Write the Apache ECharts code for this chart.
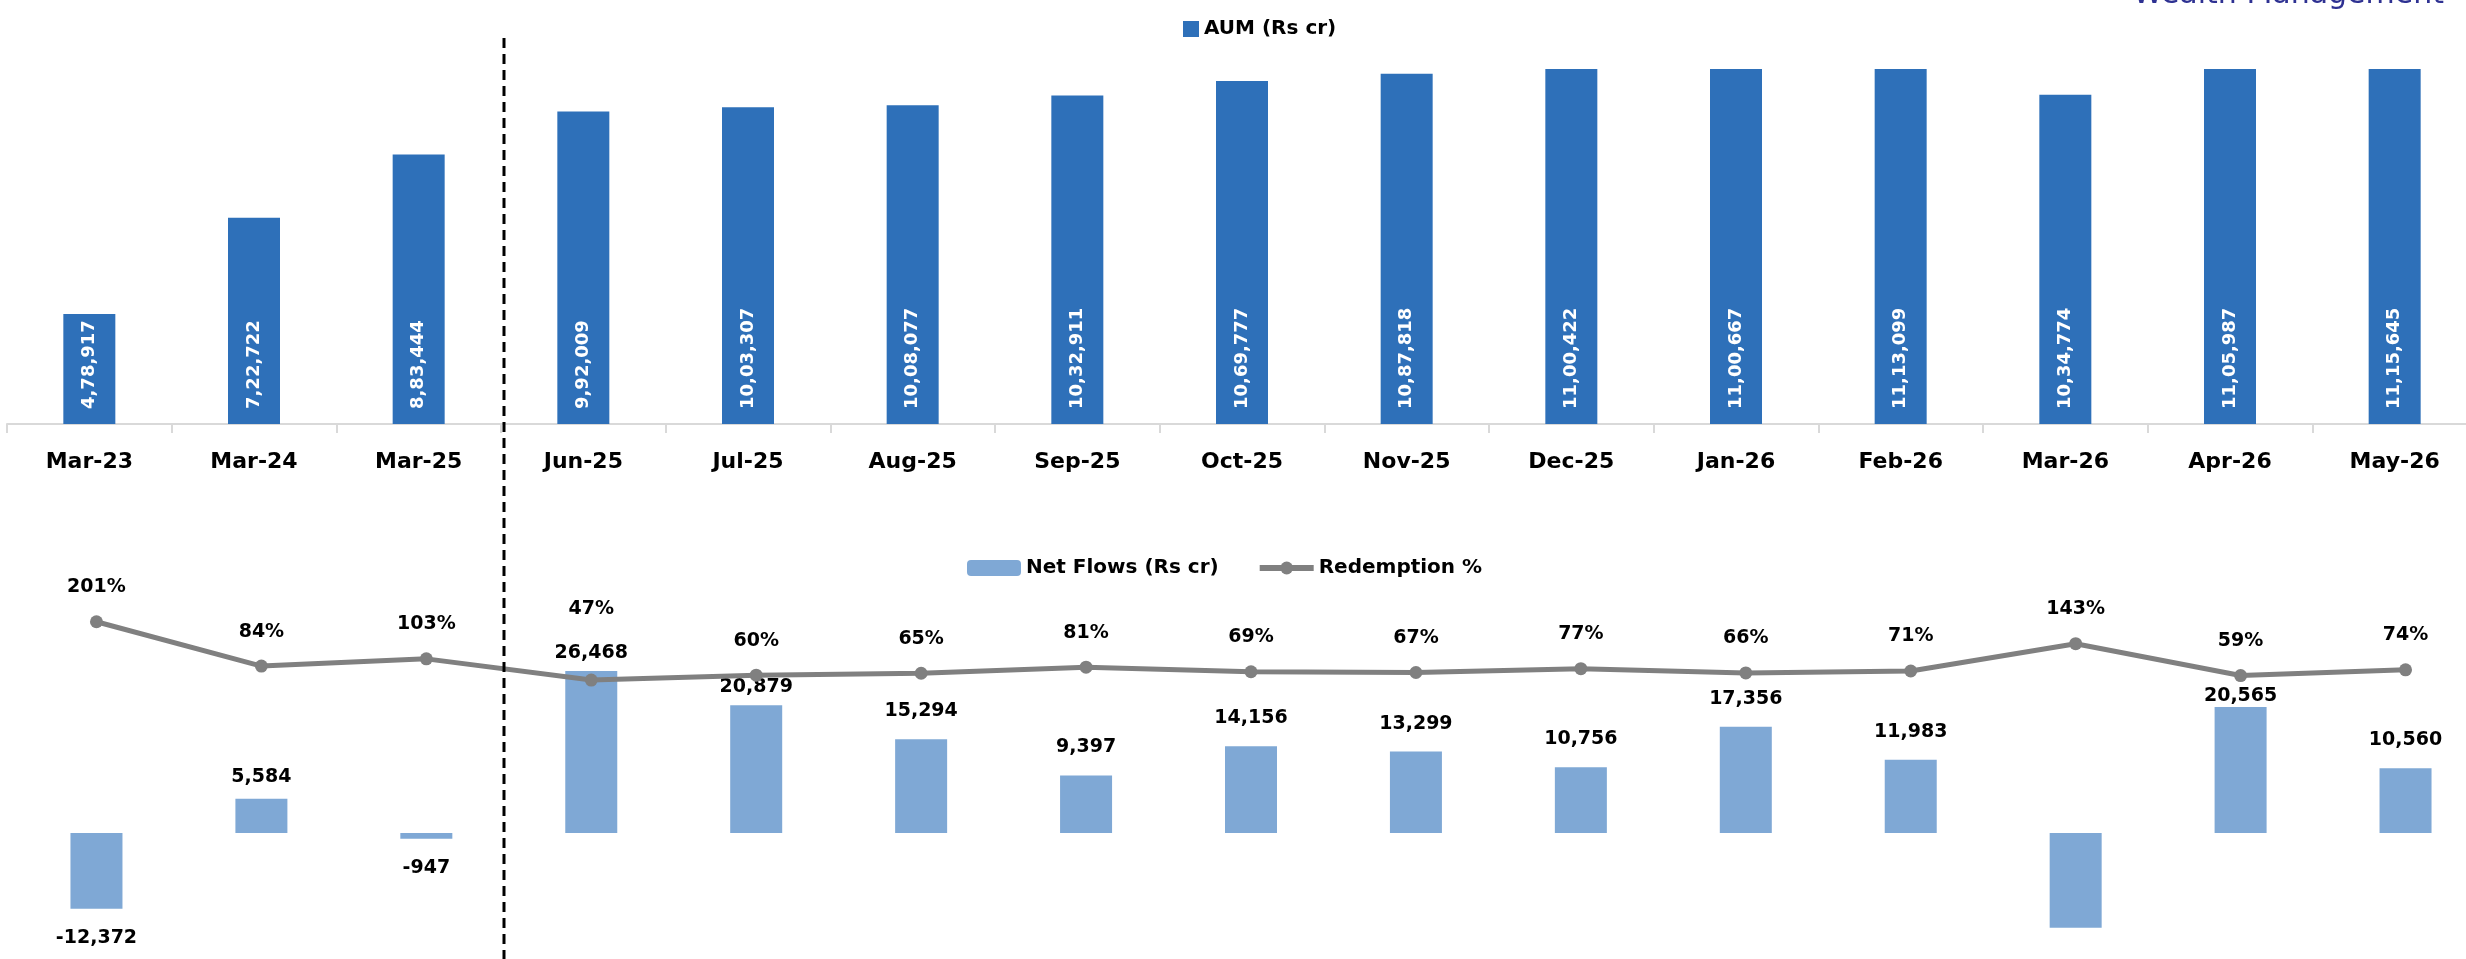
<!DOCTYPE html>
<html>
<head>
<meta charset="utf-8">
<script src="https://cdn.jsdelivr.net/npm/echarts@6/dist/echarts.min.js"></script>
<style>
  html, body { margin: 0; padding: 0; background: #ffffff; }
  #chart { width: 2466px; height: 959px; }
</style>
</head>
<body>
<div id="chart"></div>
<script>
// ---------- data ----------
const categories = ['Mar-23','Mar-24','Mar-25','Jun-25','Jul-25','Aug-25','Sep-25','Oct-25','Nov-25','Dec-25','Jan-26','Feb-26','Mar-26','Apr-26','May-26'];
const aum = [478917, 722722, 883444, 992009, 1003307, 1008077, 1032911, 1069777, 1087818, 1100422, 1100667, 1113099, 1034774, 1105987, 1115645];
const netFlows = [-12372, 5584, -947, 26468, 20879, 15294, 9397, 14156, 13299, 10756, 17356, 11983, -15450, 20565, 10560];
const redemption = [201, 84, 103, 47, 60, 65, 81, 69, 67, 77, 66, 71, 143, 59, 74];
const aumName = 'AUM (Rs cr)';
const flowName = 'Net Flows (Rs cr)';
const redName = 'Redemption %';
const hiddenFlowLabels = ['Mar-26'];

// ---------- label placement tweaks (style only) ----------
const flowLabelNudge = { 'Mar-24': 6, 'Jun-25': 10, 'Jul-25': 10, 'Apr-26': 17 };
const redLabelLift = { 'Jun-25': 37 };

const FONT = "'DejaVu Sans', sans-serif";

function inr(n) {
  const neg = n < 0;
  const s = Math.abs(Math.round(n)).toString();
  let last3 = s.slice(-3);
  let rest = s.slice(0, -3);
  if (rest) last3 = ',' + last3;
  rest = rest.replace(/\B(?=(\d{2})+(?!\d))/g, ',');
  return (neg ? '-' : '') + rest + last3;
}

const flowData = netFlows.map((v, i) => {
  const c = categories[i];
  const nudge = flowLabelNudge[c] || 0;
  return {
    value: v,
    label: {
      show: hiddenFlowLabels.indexOf(c) < 0,
      position: v >= 0 ? 'top' : 'bottom',
      distance: (v >= 0 ? 16 : 17) - nudge
    }
  };
});

const redData = redemption.map((v, i) => {
  const c = categories[i];
  return { value: v, label: { distance: 16 + (redLabelLift[c] || 0) } };
});

const chart = echarts.init(document.getElementById('chart'), null, { renderer: 'canvas' });

const boldLabel = { color: '#000000', fontWeight: 'bold', fontFamily: FONT };

chart.setOption({
  animation: false,
  backgroundColor: '#ffffff',
  legend: [
    {
      data: [aumName],
      left: 1178, top: 14,
      itemWidth: 16, itemHeight: 16,
      icon: 'rect',
      textStyle: Object.assign({ fontSize: 20 }, boldLabel)
    },
    {
      data: [
        { name: flowName },
        { name: redName, lineStyle: { width: 6, color: '#808080' }, itemStyle: { color: '#808080' } }
      ],
      left: 962, top: 553,
      itemWidth: 54, itemHeight: 16,
      itemGap: 38,
      textStyle: Object.assign({ fontSize: 20 }, boldLabel)
    }
  ],
  grid: [
    { left: 7, top: 69, width: 2470, height: 355, outerBoundsMode: 'none', containLabel: false },
    { left: 14, top: 588, width: 2474, height: 367.6, outerBoundsMode: 'none', containLabel: false }
  ],
  xAxis: [
    {
      type: 'category', gridIndex: 0, data: categories, boundaryGap: true,
      axisLine: { show: true, lineStyle: { color: '#D9D9D9', width: 2 } },
      axisTick: { show: true, length: 9, interval: 0, lineStyle: { color: '#D9D9D9', width: 2 } },
      axisLabel: Object.assign({ interval: 0, fontSize: 22, margin: 25, lineHeight: 26 }, boldLabel),
      splitLine: { show: false }
    },
    {
      type: 'category', gridIndex: 1, data: categories, boundaryGap: true, show: false
    }
  ],
  yAxis: [
    { type: 'value', gridIndex: 0, min: 200000, max: 1100000, show: false, splitLine: { show: false } },
    { type: 'value', gridIndex: 1, min: -20000, max: 40000, show: false, splitLine: { show: false } },
    { type: 'value', gridIndex: 1, min: -680, max: 290, show: false, splitLine: { show: false } }
  ],
  series: [
    {
      name: aumName, type: 'bar', xAxisIndex: 0, yAxisIndex: 0,
      data: aum, barWidth: 52, clip: true,
      itemStyle: { color: '#2E70B9' },
      label: {
        show: true, position: 'insideBottom', distance: 15, rotate: 90,
        align: 'left', verticalAlign: 'middle',
        color: '#ffffff', fontWeight: 'bold', fontSize: 18, fontFamily: FONT,
        formatter: p => inr(p.value)
      }
    },
    {
      name: flowName, type: 'bar', xAxisIndex: 1, yAxisIndex: 1,
      data: flowData, barWidth: 52,
      itemStyle: { color: '#7FA8D5' },
      label: Object.assign({ show: true, fontSize: 19, lineHeight: 24, formatter: p => inr(p.value) }, boldLabel)
    },
    {
      name: redName, type: 'line', xAxisIndex: 1, yAxisIndex: 2,
      data: redData, z: 5,
      symbol: 'circle', symbolSize: 13,
      lineStyle: { color: '#808080', width: 5 },
      itemStyle: { color: '#808080' },
      label: Object.assign({ show: true, position: 'top', fontSize: 19, lineHeight: 24, formatter: p => p.value + '%' }, boldLabel)
    }
  ]
});

// separator between the yearly and monthly sections, placed from the category scale
const xa = chart.convertToPixel({ xAxisIndex: 0 }, categories[2]);
const xb = chart.convertToPixel({ xAxisIndex: 0 }, categories[3]);
const sepX = (xa + xb) / 2 + 3;
chart.setOption({
  graphic: [
    {
      type: 'line', silent: true, z: 10,
      shape: { x1: sepX, y1: 38, x2: sepX, y2: 959 },
      style: { stroke: '#000000', lineWidth: 3, lineDash: [10, 6] }
    },
    {
      type: 'text', silent: true, z: 10,
      x: 2133, y: 10,
      style: {
        text: 'Wealth Management',
        fill: '#2E3192',
        font: "30px 'DejaVu Sans', sans-serif",
        verticalAlign: 'bottom',
        align: 'left'
      }
    }
  ]
});
</script>
</body>
</html>
